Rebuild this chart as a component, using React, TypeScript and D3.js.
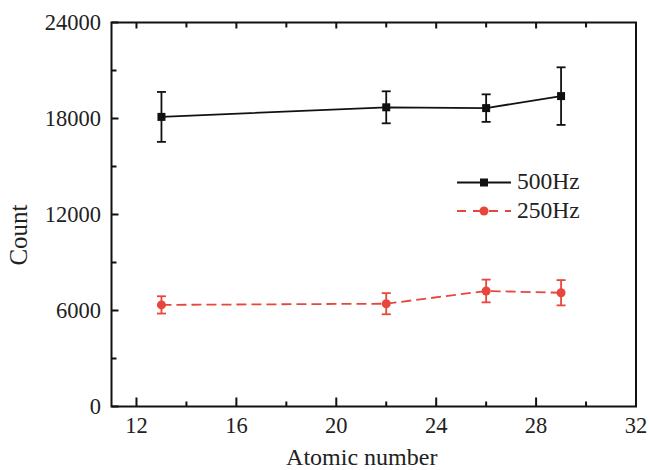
import React from "react";
import * as d3 from "d3";

const atomicNumbers = [13, 22, 26, 29];
const counts500 = [18100, 18700, 18650, 19400];
const err500 = [1560, 1000, 860, 1800];
const counts250 = [6350, 6425, 7220, 7110];
const err250 = [540, 660, 710, 790];
const xMajorTicks = [12, 16, 20, 24, 28, 32];
const xMinorTicks = [14, 18, 22, 26, 30];
const yMajorTicks = [0, 6000, 12000, 18000, 24000];
const yMinorTicks = [3000, 9000, 15000, 21000];
const seriesNames = ["500Hz", "250Hz"];

const W = 650, H = 470;
const L = 111.5, R = 636, T = 22.5, B = 406.5;
const FONT = "'Liberation Serif', 'Times New Roman', serif";

export default function App() {
  const x = d3.scaleLinear().domain([11, 32]).range([L, R]);
  const y = d3.scaleLinear().domain([0, 24000]).range([B, T]);
  const black = "#111";
  const red = "#e8463c";

  const series = [
    { name: seriesNames[0], vals: counts500, errs: err500, color: black, dash: undefined, marker: "square" },
    { name: seriesNames[1], vals: counts250, errs: err250, color: red, dash: "10,5", marker: "circle" },
  ];

  const line = d3.line<[number, number]>().x((d) => x(d[0])).y((d) => y(d[1]));

  return (
    <svg width={W} height={H} style={{ position: "absolute", left: 0, top: 0, background: "#fff" }}>
      <rect x={0} y={0} width={W} height={H} fill="#fff" />
      {/* ticks */}
      {xMajorTicks.map((t) => (
        <g key={"xM" + t}>
          <line x1={x(t)} x2={x(t)} y1={B} y2={B - 9} stroke={black} strokeWidth={2} />
          <line x1={x(t)} x2={x(t)} y1={T} y2={T + 6} stroke={black} strokeWidth={2} />
          <text x={x(t)} y={433} textAnchor="middle" fontFamily={FONT} fontSize={22.5} fill="#222">{t}</text>
        </g>
      ))}
      {xMinorTicks.map((t) => (
        <g key={"xm" + t}>
          <line x1={x(t)} x2={x(t)} y1={B} y2={B - 5} stroke={black} strokeWidth={2} />
          <line x1={x(t)} x2={x(t)} y1={T} y2={T + 5} stroke={black} strokeWidth={2} />
        </g>
      ))}
      {yMajorTicks.map((t) => (
        <g key={"yM" + t}>
          <line x1={L} x2={L + 7} y1={y(t)} y2={y(t)} stroke={black} strokeWidth={2} />
          <text x={101} y={y(t) + 7} textAnchor="end" fontFamily={FONT} fontSize={22.5} fill="#222">{t}</text>
        </g>
      ))}
      {yMinorTicks.map((t) => (
        <line key={"ym" + t} x1={L} x2={L + 5} y1={y(t)} y2={y(t)} stroke={black} strokeWidth={2} />
      ))}
      {/* frame */}
      <rect x={L} y={T} width={R - L} height={B - T} fill="none" stroke={black} strokeWidth={2} />

      {/* series */}
      {series.map((s) => {
        const pts: [number, number][] = atomicNumbers.map((a, i) => [a, s.vals[i]]);
        return (
          <g key={s.name}>
            <path d={line(pts) || ""} fill="none" stroke={s.color} strokeWidth={1.8} strokeDasharray={s.dash} />
            {pts.map((p, i) => {
              const cx = x(p[0]);
              const top = y(p[1] + s.errs[i]);
              const bot = y(p[1] - s.errs[i]);
              return (
                <g key={i}>
                  <line x1={cx} x2={cx} y1={top} y2={bot} stroke={s.color} strokeWidth={1.8} />
                  <line x1={cx - 4.5} x2={cx + 4.5} y1={top} y2={top} stroke={s.color} strokeWidth={1.8} />
                  <line x1={cx - 4.5} x2={cx + 4.5} y1={bot} y2={bot} stroke={s.color} strokeWidth={1.8} />
                  {s.marker === "square" ? (
                    <rect x={cx - 4} y={y(p[1]) - 4} width={8} height={8} fill={s.color} />
                  ) : (
                    <circle cx={cx} cy={y(p[1])} r={4.5} fill={s.color} />
                  )}
                </g>
              );
            })}
          </g>
        );
      })}

      {/* legend */}
      {series.map((s, i) => {
        const ly = i === 0 ? 182.5 : 211;
        return (
          <g key={"leg" + s.name}>
            <line x1={457} x2={511} y1={ly} y2={ly} stroke={s.color} strokeWidth={1.8} strokeDasharray={s.dash ? "9,7" : undefined} />
            {s.marker === "square" ? (
              <rect x={480} y={ly - 4} width={8} height={8} fill={s.color} />
            ) : (
              <circle cx={484} cy={ly} r={4.5} fill={s.color} />
            )}
            <text x={517} y={ly + 6.5} fontFamily={FONT} fontSize={23.5} fill="#222">{s.name}</text>
          </g>
        );
      })}

      {/* axis titles */}
      <text x={(L + R) / 2 - 12} y={465} textAnchor="middle" fontFamily={FONT} fontSize={24} fill="#222">Atomic number</text>
      <text transform={`translate(27,235) rotate(-90)`} textAnchor="middle" fontFamily={FONT} fontSize={25} fill="#222">Count</text>
    </svg>
  );
}
